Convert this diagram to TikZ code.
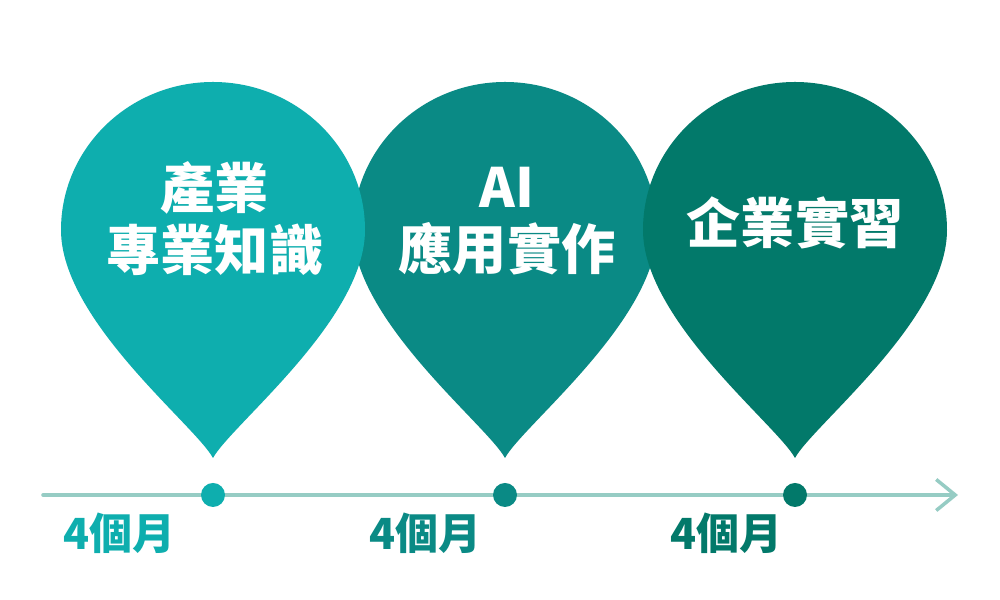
\documentclass[tikz,border=0pt]{standalone}
\usepackage{fontspec}
\newfontfamily\cjk{Noto Sans CJK TC}
\usetikzlibrary{arrows.meta}
\definecolor{pinone}{RGB}{14,174,174}
\definecolor{pintwo}{RGB}{10,138,133}
\definecolor{pinthree}{RGB}{2,121,106}
\definecolor{mline}{RGB}{150,204,196}

\begin{document}
\begin{tikzpicture}[x=0.1mm,y=0.1mm,
    title/.style={text=white,align=center,font=\cjk\bfseries\fontsize{15.4}{17.6}\selectfont},
    month/.style={font=\cjk\bfseries\fontsize{12.2}{14}\selectfont},
    stop/.style={circle,inner sep=0pt,minimum size=2.4mm},
    timeline/.style={mline,line width=1pt,line cap=round,-{Straight Barb[length=1.9mm,width=3.1mm]}}]
      \useasboundingbox [fill=white] (0,0) rectangle (1000,600);

      % drops, middle one first
      \foreach \cx/\col in {505/pintwo,213/pinone,795/pinthree}
        \fill [\col,shift={(\cx,370)}] (0,-228) .. controls (18,-195) and (152,-90) .. (152,0)
          arc [start angle=0,end angle=180,x radius=152,y radius=148]
          .. controls (-152,-90) and (-18,-195) .. cycle;

      \node [title] (skill) at (215,381) {產業\\專業知識};
      \node [title] (ai) at (507,379) {AI\\應用實作};
      \node [title] (intern) at (795,377) {企業實習};

      % time line
      \coordinate (start) at (43,105);
      \coordinate (end) at (958,105);
      \draw [timeline] (start) -- (end);
      \node [stop,fill=pinone] (m1) at (213,105) {};
      \node [stop,fill=pintwo] (m2) at (505,105) {};
      \node [stop,fill=pinthree] (m3) at (795,105) {};

      \node [month,text=pinone] (l1) at (119,67) {4個月};
      \node [month,text=pintwo] (l2) at (425,67) {4個月};
      \node [month,text=pinthree] (l3) at (726,67) {4個月};
    \end{tikzpicture}
\end{document}
